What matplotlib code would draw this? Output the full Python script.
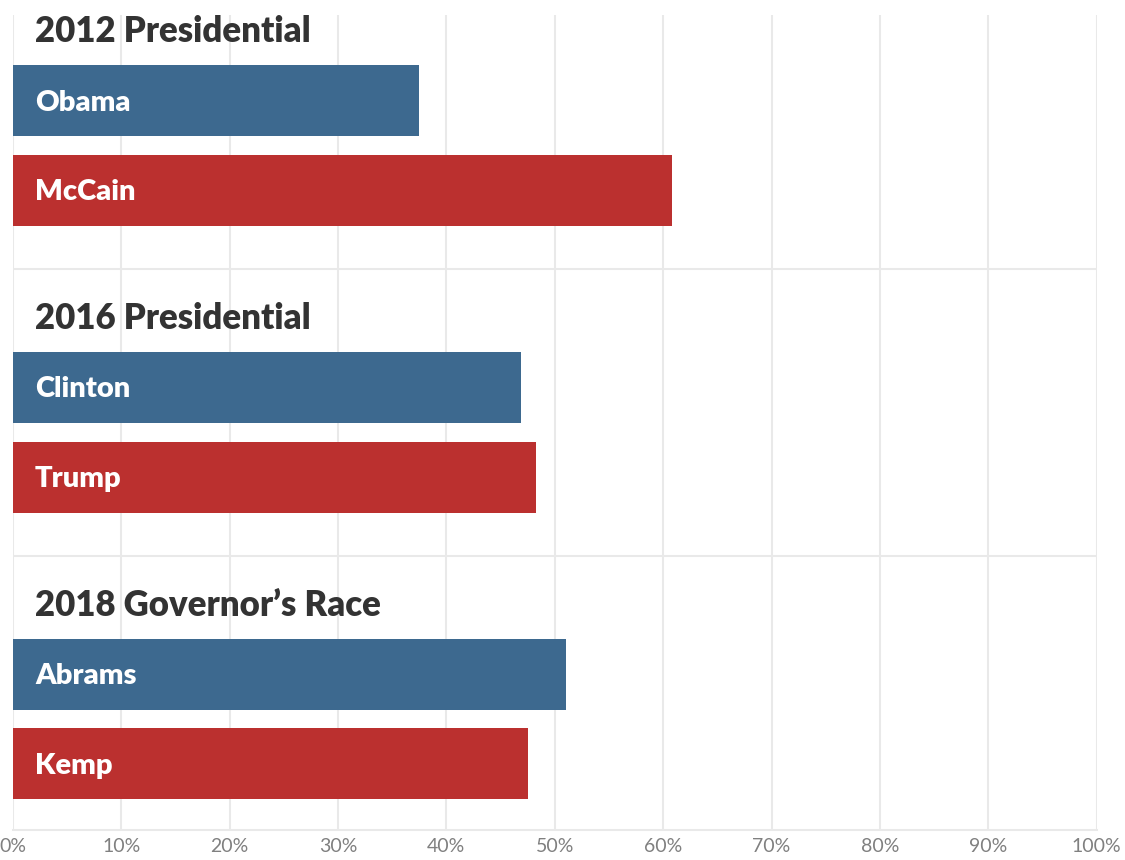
import matplotlib.pyplot as plt
import matplotlib.ticker as mticker

# race headers and candidates
races = ["2012 Presidential", "2016 Presidential", "2018 Governor\u2019s Race"]
dem_names = ["Obama", "Clinton", "Abrams"]
rep_names = ["McCain", "Trump", "Kemp"]
dem_share = [37.5, 46.9, 51.0]
rep_share = [60.8, 48.3, 47.5]
ticks = list(range(0, 101, 10))

blue = "#3d698f"
red = "#bb302f"
grid_col = "#e9e9e9"

plt.rcParams["font.family"] = ["Lato", "DejaVu Sans"]

fig = plt.figure(figsize=(11.25, 8.6), dpi=100)
ax = fig.add_axes([12.7 / 1125, 30 / 860, 1084 / 1125, 815 / 860])

group_step = 3.17   # distance between race headers
first_bar = 0.78    # header -> first bar centre
bar_step = 0.99     # bar centre spacing
bar_h = 0.785

for g, race in enumerate(races):
    base = g * group_step
    y_dem = base + first_bar
    y_rep = y_dem + bar_step
    ax.barh(y_dem, dem_share[g], height=bar_h, color=blue, zorder=3)
    ax.barh(y_rep, rep_share[g], height=bar_h, color=red, zorder=3)
    ax.text(2.05, base + 0.138, race, fontsize=25, fontweight="heavy",
            color="#333333", va="baseline", ha="left", zorder=4)
    ax.text(2.05, y_dem + 0.11, dem_names[g], fontsize=21, fontweight="heavy",
            color="white", va="baseline", ha="left", zorder=4)
    ax.text(2.05, y_rep + 0.11, rep_names[g], fontsize=21, fontweight="heavy",
            color="white", va="baseline", ha="left", zorder=4)
    if g > 0:
        ax.axhline(base - 0.53, color=grid_col, lw=1.5, zorder=1)

ax.set_xlim(0, 100)
ax.set_ylim((830 - 30) / 90.5, (15 - 30) / 90.5)
ax.set_xticks(ticks)
ax.xaxis.set_major_formatter(mticker.FuncFormatter(lambda v, p: f"{v:.0f}%"))
ax.set_yticks([])
ax.grid(axis="x", color=grid_col, lw=1.5, zorder=0)
ax.tick_params(axis="x", length=0, pad=6, labelsize=14, labelcolor="#808080")
for s in ["top", "left", "right"]:
    ax.spines[s].set_visible(False)
ax.spines["bottom"].set_color(grid_col)
ax.spines["bottom"].set_linewidth(1.5)

fig.savefig("out.png", dpi=100)
